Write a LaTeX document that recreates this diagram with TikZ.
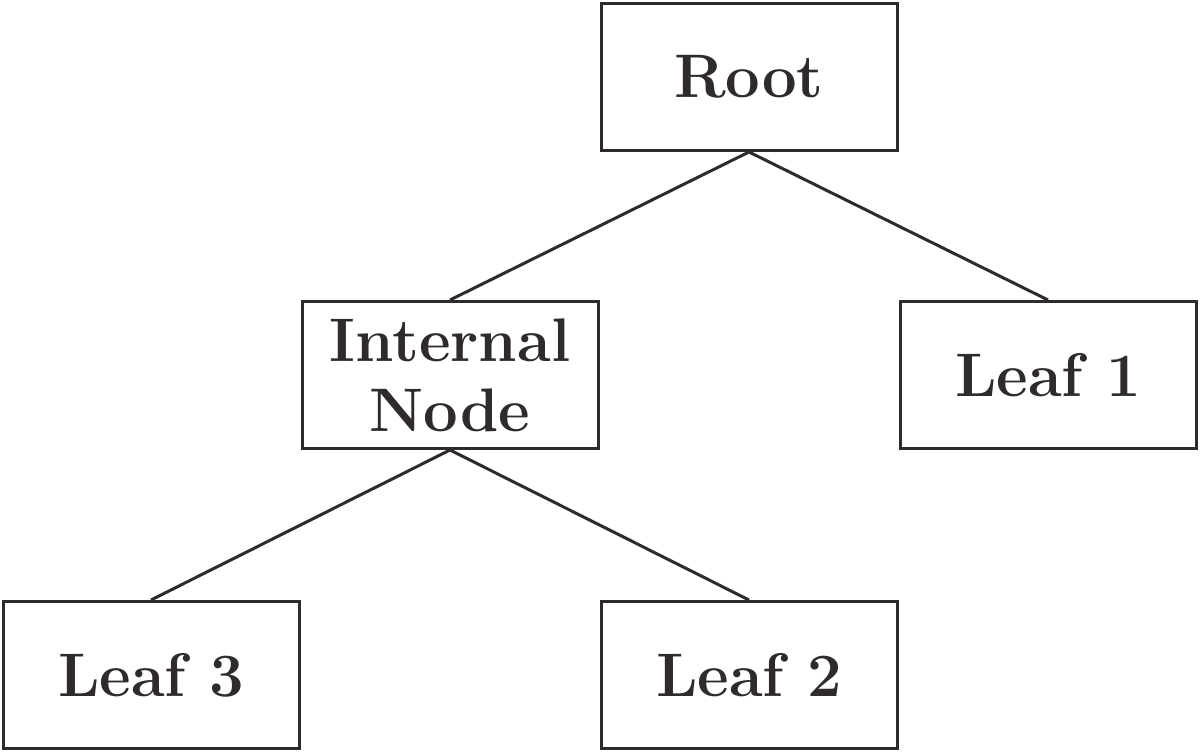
\documentclass[tikz,border=0pt]{standalone}
\definecolor{ink}{HTML}{2F2A2B}
\begin{document}
\begin{tikzpicture}[
    treebox/.style={draw=ink, line width=0.06cm, text=ink, minimum width=5.92cm,
      minimum height=2.94cm, align=center, inner sep=0pt,
      font=\fontsize{35}{40}\selectfont\bfseries},
    edge/.style={draw=ink, line width=0.06cm}]
    \useasboundingbox (0,0) rectangle (24,15.04);
    \node[treebox] (root) at (14.98,13.5) {Root};
    \node[treebox] (inner) at (9.0,7.54) {Internal\\Node};
    \node[treebox] (leafone) at (20.96,7.54) {Leaf 1};
    \node[treebox] (leafthree) at (3.02,1.54) {Leaf 3};
    \node[treebox] (leaftwo) at (14.98,1.54) {Leaf 2};
    \draw[edge] (root.south) -- (inner.north);
    \draw[edge] (root.south) -- (leafone.north);
    \draw[edge] (inner.south) -- (leafthree.north);
    \draw[edge] (inner.south) -- (leaftwo.north);
\end{tikzpicture}
\end{document}
